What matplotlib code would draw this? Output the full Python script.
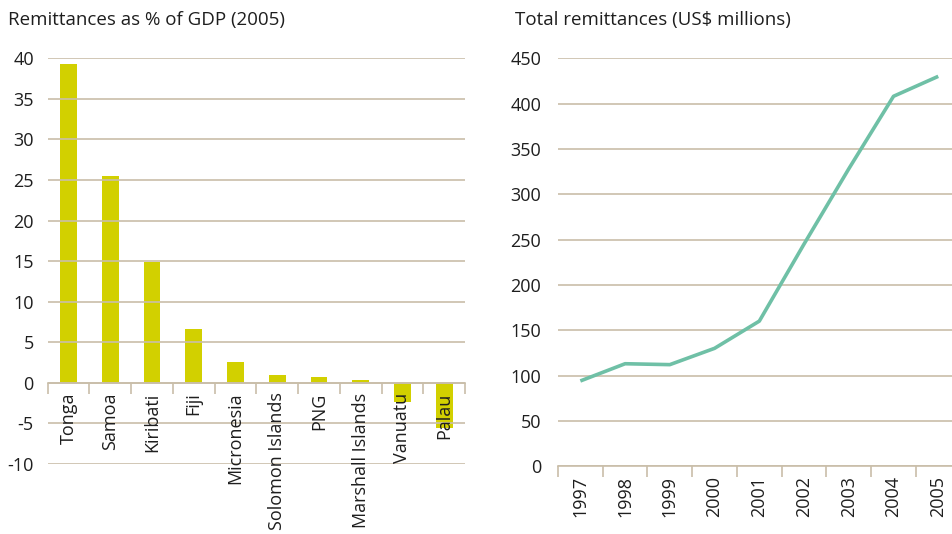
import matplotlib.pyplot as plt
import numpy as np

# --- DATA ---
countries = ['Tonga', 'Samoa', 'Kiribati', 'Fiji', 'Micronesia', 'Solomon Islands',
             'PNG', 'Marshall Islands', 'Vanuatu', 'Palau']
pct_gdp = [39.3, 25.5, 14.9, 6.6, 2.6, 1.0, 0.7, 0.35, -2.3, -5.5]

years = ['1997', '1998', '1999', '2000', '2001', '2002', '2003', '2004', '2005']
total_remit = [94, 113, 112, 130, 160, 245, 328, 408, 430]

# --- STYLE ---
plt.rcParams['font.family'] = ['Open Sans', 'DejaVu Sans']
plt.rcParams['axes.unicode_minus'] = False
TEXT = '#1e1e1e'
GRID = '#c9bea9'
BAR = '#d2d000'
LINE = '#6fc0a6'
FS = 13

fig = plt.figure(figsize=(9.53, 5.34), dpi=100)


def style_axes(ax, n, yticks):
    for s in ['left', 'right', 'top']:
        ax.spines[s].set_visible(False)
    ax.spines['bottom'].set_color(GRID)
    ax.spines['bottom'].set_linewidth(1.2)
    # gridlines sit above the bars but below the tick labels
    for v in yticks:
        ax.axhline(v, color=GRID, linewidth=1.2, zorder=2)
    ax.set_yticks(yticks)
    ax.set_axisbelow(False)
    ax.tick_params(axis='y', length=0, labelsize=FS, colors=TEXT)
    ax.set_xlim(-0.5, n - 0.5)
    # category labels on major ticks, boundary ticks on minor ticks
    ax.set_xticks(np.arange(n))
    ax.set_xticks(np.arange(n + 1) - 0.5, minor=True)
    ax.tick_params(axis='x', which='major', length=0, pad=7, labelsize=FS,
                   labelrotation=90, colors=TEXT)
    ax.tick_params(axis='x', which='minor', length=8, width=1.2, color=GRID)


# Left: remittances as % of GDP
ax1 = fig.add_axes([0.050, 0.131, 0.438, 0.760])
x1 = np.arange(len(countries))
ax1.bar(x1, pct_gdp, width=0.4, color=BAR, zorder=1)
style_axes(ax1, len(countries), np.arange(-10, 41, 5))
ax1.set_ylim(-10, 40)
ax1.spines['bottom'].set_position(('data', 0))
ax1.set_xticklabels(countries, va='top')
ax1.tick_params(axis='y', pad=10)

# Right: total remittances
ax2 = fig.add_axes([0.5855, 0.127, 0.4225, 0.764])
x2 = np.arange(len(years))
ax2.plot(x2, total_remit, color=LINE, linewidth=2.6, solid_capstyle='butt', zorder=3)
style_axes(ax2, len(years), np.arange(0, 451, 50))
ax2.set_ylim(0, 450)
ax2.set_xticklabels(years, va='top')
ax2.tick_params(axis='y', pad=12)

fig.text(0.008, 0.962, 'Remittances as % of GDP (2005)', fontsize=13.5, color=TEXT,
         va='center', ha='left')
fig.text(0.540, 0.962, 'Total remittances (US$ millions)', fontsize=13.5, color=TEXT,
         va='center', ha='left')

fig.savefig('out.png', dpi=100)
